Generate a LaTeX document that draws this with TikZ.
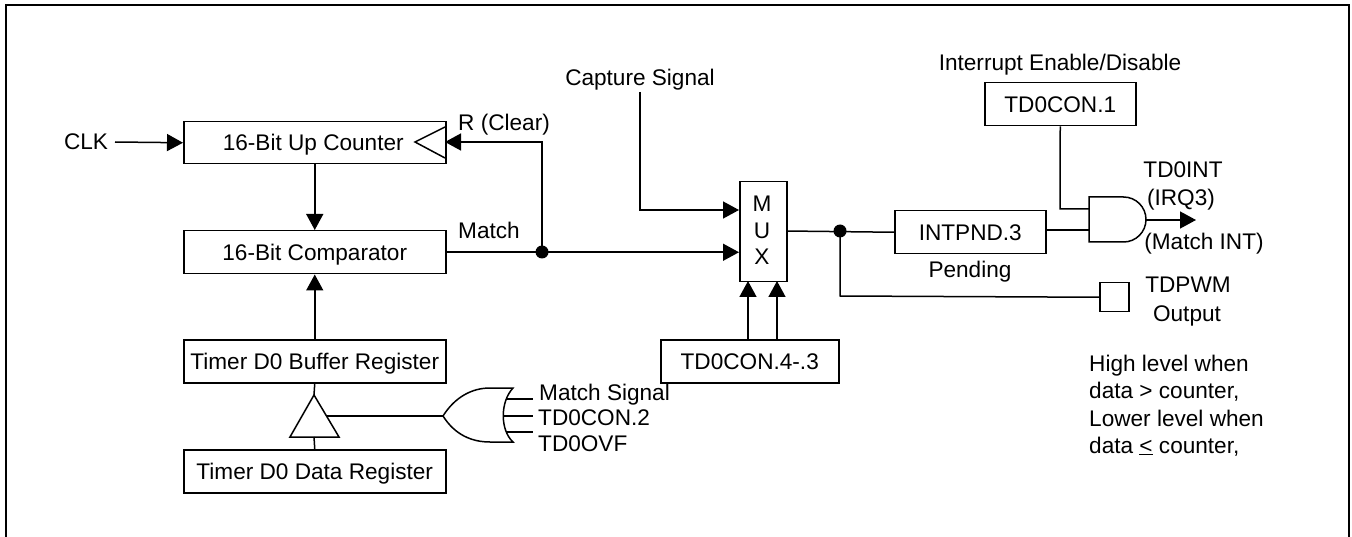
\documentclass[tikz,border=0pt]{standalone}
\usepackage{fontspec}
\setmainfont{Liberation Sans}
\usetikzlibrary{arrows.meta}
\tikzset{
  x=1pt,y=-1pt,
  wire/.style={line width=1.5pt},
  sig/.style={wire,-{Triangle[length=16pt,width=17pt]}},
  blk/.style={draw,line width=1.5pt,inner sep=0pt,anchor=north west,text height=16.2pt,text depth=0pt,font=\fontsize{22.6}{27}\selectfont},
  lbl/.style={inner sep=0pt,anchor=base,font=\fontsize{22.6}{27}\selectfont},
  lbll/.style={lbl,anchor=base west},
  dot/.style={circle,fill=black,inner sep=0pt,minimum size=13pt},
}
\begin{document}
\begin{tikzpicture}
\useasboundingbox (0,0) rectangle (1352,537);
\draw[line width=2.2pt] (6,537) -- (6,5) -- (1349,5) -- (1349,537);
% boxes
\node[blk,minimum width=262pt,minimum height=42pt] (counter) at (183,121) {\hspace*{-3pt}16-Bit Up Counter};
\node[blk,minimum width=262pt,minimum height=43pt] (comp) at (183,230) {16-Bit Comparator};
\node[blk,minimum width=262pt,minimum height=43pt] (buf) at (183,339) {Timer D0 Buffer Register};
\node[blk,minimum width=262pt,minimum height=43pt] (data) at (183,449) {Timer D0 Data Register};
\node[blk,minimum width=47pt,minimum height=100pt] (mux) at (739,181) {};
\node[blk,minimum width=178pt,minimum height=43pt] (sel) at (660,339) {TD0CON.4-.3};
\node[blk,minimum width=151pt,minimum height=43pt] (pnd) at (894,210) {INTPND.3};
\node[blk,minimum width=151pt,minimum height=43pt] (ena) at (984,82) {TD0CON.1};
\node[blk,minimum width=29pt,minimum height=29pt] (pad) at (1099,282) {};
% labels
\node[lbl] (clk) at (86,150) {CLK};
\node[lbll] (rclr) at (458,131) {R (Clear)};
\node[lbll] (match) at (458,239) {Match};
\node[lbl] (cap) at (640,86) {Capture Signal};
\node[lbl] (int) at (1060,71) {Interrupt Enable/Disable};
\node[lbl] at (762,212) {M};
\node[lbl] at (762,239) {U};
\node[lbl] at (762,265) {X};
\node[lbl] at (970,278) {Pending};
\node[lbl] at (1183,178) {TD0INT};
\node[lbl] at (1181,206) {(IRQ3)};
\node[lbl] at (1204,250) {(Match INT)};
\node[lbl] at (1188,293) {TDPWM};
\node[lbl] at (1187,321) {Output};
\node[lbll] at (539,400) {Match Signal};
\node[lbll] at (538,425) {TD0CON.2};
\node[lbll] at (538,451) {TD0OVF};
\node[lbll] at (1089,371) {High level when};
\node[lbll] at (1089,398) {data > counter,};
\node[lbll] at (1089,426) {Lower level when};
\node[lbll] at (1089,453) {data \underline{<} counter,};
% coordinates
\coordinate (j1) at (542,252);
\coordinate (j2) at (840,231);
% counter triangle
\draw[wire] (445,127) -- (415,142) -- (445,158);
% connectors
\draw[sig] (115,142) -- (counter.west);
\draw[sig] (counter.south) -- (comp.north);
\draw[sig] (buf.north) -- (comp.south);
\draw[sig] (j1) -- (542,142) -- (445,142);
\draw[sig] (comp.east) -- (mux.west |- comp.east) ;
\draw[sig] (640,92) -- (640,210) -- (739,210);
\node[dot] at (j1) {};
\draw[sig] (748,339) -- (748,281);
\draw[sig] (777,339) -- (777,281);
\draw[wire] (786,231) -- (pnd.west);
\node[dot] at (j2) {};
\draw[wire] (j2) -- (840,296) -- (pad.west);
% tristate
\draw[wire] (buf.south) -- (314,395);
\draw[wire] (314,437) -- (data.north);
\draw[wire] (314,395) -- (339,437) -- (290,437) -- cycle;
\draw[wire] (327,416) -- (443,416);
% OR gate
\draw[wire] (443,416) .. controls (455,397) and (472,388) .. (490,388) -- (513,388)
  .. controls (500,402) and (500,430) .. (513,442) -- (490,442)
  .. controls (472,442) and (455,435) .. (443,416);
\draw[wire] (506,399) -- (533,399) (503,416) -- (533,416) (506,432) -- (533,432);
% AND gate
\draw[wire] (1089,197) -- (1123.5,197) arc[start angle=-90,end angle=90,radius=22.5] -- (1089,242) -- cycle;
\draw[wire] (pnd.east |- 0,230) -- (1089,230);
\draw[wire] (ena.south) -- (1060,209) -- (1089,209);
\draw[sig] (1146,220) -- (1196,220);
\end{tikzpicture}
\end{document}
